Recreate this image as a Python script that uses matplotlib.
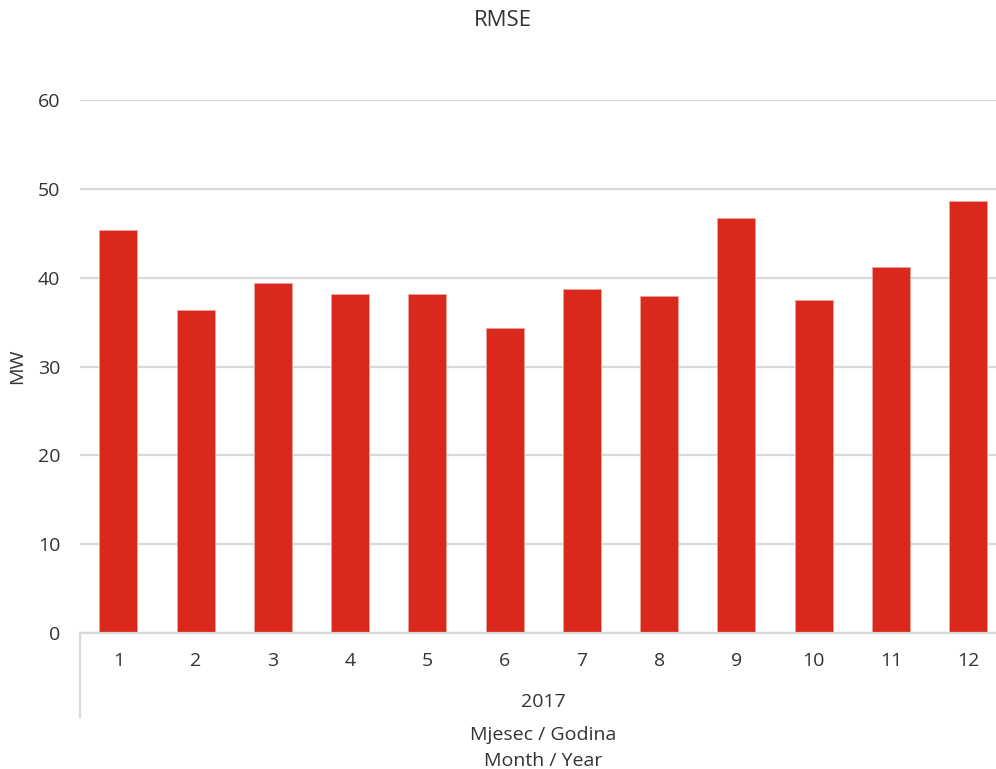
import numpy as np
import matplotlib
matplotlib.use('Agg')
import matplotlib.pyplot as plt
from matplotlib.lines import Line2D

plt.rcParams['font.family'] = ['Open Sans', 'DejaVu Sans']

mjeseci = ['1', '2', '3', '4', '5', '6', '7', '8', '9', '10', '11', '12']
rmse = [45.4, 36.4, 39.4, 38.2, 38.2, 34.3, 38.7, 37.9, 46.7, 37.5, 41.2, 48.6]
godina = '2017'

BOJA = '#DA291C'
SIVA = '#D9D9D9'
TEKST = '#333333'
W, H = 996, 769

fig = plt.figure(figsize=(W / 100, H / 100), dpi=100)
# os ide malo preko desnog ruba, kao u originalu
ax = fig.add_axes([79.7 / W, 1 - 633 / H, 927 / W, 533 / H])

x = np.arange(len(mjeseci))
ax.bar(x, rmse, width=0.49, color=BOJA, edgecolor='#F0A09A', linewidth=0.6, zorder=3)

ax.set_xlim(-0.5, len(mjeseci) - 0.5)
ax.set_ylim(0, 60)
ax.set_yticks(np.arange(0, 61, 10))
ax.set_xticks(x)
ax.set_xticklabels(mjeseci)
ax.tick_params(axis='both', length=0, labelsize=14, colors=TEKST)
ax.tick_params(axis='x', pad=14)
ax.tick_params(axis='y', pad=14)
ax.grid(axis='y', color=SIVA, linewidth=1.6, zorder=0)
for s in ['top', 'right', 'left']:
    ax.spines[s].set_visible(False)
ax.spines['bottom'].set_color(SIVA)
ax.spines['bottom'].set_linewidth(1.6)
ax.spines['bottom'].set_zorder(4)

ax.set_ylabel('MW', fontsize=14, color=TEKST)
ax.yaxis.set_label_coords(-54 / 927, 0.5)

# okomita crta kategorija (godina)
fig.add_artist(Line2D([79.5 / W, 79.5 / W], [1 - 633 / H, 1 - 717 / H],
                      color=SIVA, linewidth=1.6))

cx = (79.7 + 1006.6) / 2 / W
fig.text(503 / W, 1 - 21 / H, 'RMSE', ha='center', va='center', fontsize=16, color=TEKST)
fig.text(cx, 1 - 702 / H, godina, ha='center', va='center', fontsize=14, color=TEKST)
fig.text(cx, 1 - 735 / H, 'Mjesec / Godina', ha='center', va='center', fontsize=14, color=TEKST)
fig.text(cx, 1 - 761 / H, 'Month / Year', ha='center', va='center', fontsize=14, color=TEKST)

plt.savefig('out.png', dpi=100)
